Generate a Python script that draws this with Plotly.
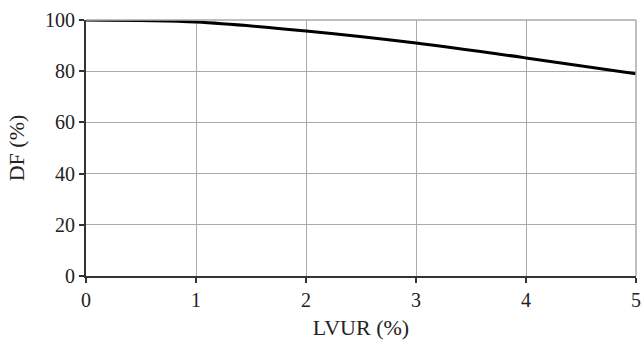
import plotly.graph_objects as go

lvur = [0, 1, 2, 3, 4, 5]
df = [100, 99.2, 95.7, 91.0, 85.2, 79.0]
x_ticks = [0, 1, 2, 3, 4, 5]
y_ticks = [0, 20, 40, 60, 80, 100]

fig = go.Figure()
fig.add_trace(go.Scatter(x=lvur, y=df, mode="lines",
                         line=dict(color="black", width=3, shape="spline", smoothing=0.8),
                         showlegend=False))

FAM = "Liberation Serif, Times New Roman, serif"
tickfont = dict(family=FAM, color="#222", size=20)
titlefont = dict(family=FAM, color="#222", size=22)

fig.update_layout(
    width=643, height=345,
    margin=dict(l=86, r=7, t=20, b=69),
    paper_bgcolor="white", plot_bgcolor="white",
    font=dict(family=FAM, color="#222", size=20),
    xaxis=dict(range=[0, 5], tickvals=x_ticks, showgrid=True, gridcolor="#aaaaaa", gridwidth=1,
               showline=True, linecolor="#333", linewidth=2, mirror=False,
               ticks="outside", ticklen=5, tickcolor="#333", tickwidth=2,
               ticklabeloverflow="allow", tickfont=tickfont,
               title=dict(text="LVUR (%)", font=titlefont, standoff=10), zeroline=False,
               automargin=False),
    yaxis=dict(range=[0, 100], tickvals=y_ticks, showgrid=True, gridcolor="#aaaaaa", gridwidth=1,
               showline=True, linecolor="#333", linewidth=2,
               ticks="outside", ticklen=5, tickcolor="#333", tickwidth=2,
               ticklabeloverflow="allow", tickfont=tickfont,
               title=dict(text="DF (%)", font=titlefont, standoff=14), zeroline=False,
               automargin=False),
    shapes=[dict(type="line", xref="paper", yref="paper", x0=0, x1=1, y0=1, y1=1,
                 line=dict(color="#aaaaaa", width=1.5)),
            dict(type="line", xref="paper", yref="paper", x0=1, x1=1, y0=0, y1=1,
                 line=dict(color="#aaaaaa", width=1.5))],
)

fig.write_html("out.html")
